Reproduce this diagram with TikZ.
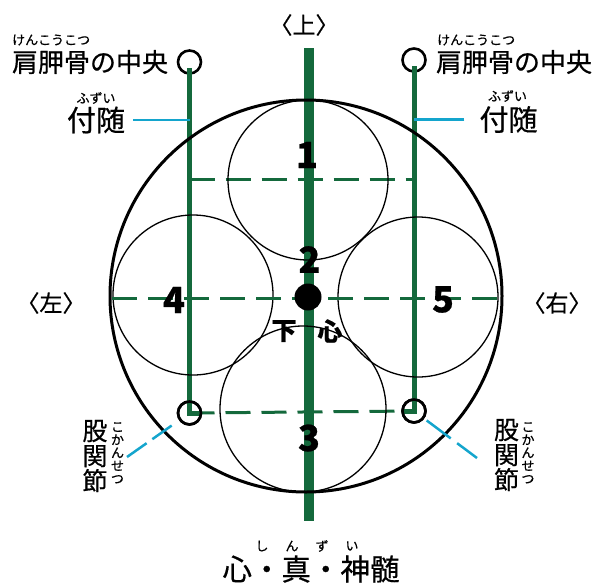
\documentclass[tikz,border=0pt]{standalone}
\usepackage{fontspec}
\setmainfont{Noto Sans CJK JP}[FakeBold=0.6]
\usepackage{tikz}
\usetikzlibrary{calc, positioning}
\definecolor{pine}{RGB}{20,105,60}
\definecolor{aqua}{RGB}{20,165,205}
\tikzset{
    x=1pt, y=-1pt, % one unit is one pixel of the figure, y runs downwards
    pipe/.style = {draw=pine, line width=10pt}, % the centre line
    rail/.style = {draw=pine, line width=5pt}, % the side lines
    gdash/.style = {draw=pine, line width=3pt, dash pattern=on 25pt off 11pt},
    ball/.style = {circle, draw, line width=1.3pt, inner sep=0pt, minimum size=160pt},
    ring/.style = {circle, draw, line width=2.6pt, inner sep=0pt, minimum size=23pt},
    lead/.style = {draw=aqua, line width=2.5pt},
    lbl/.style = {inner sep=0pt, font=\fontsize{26}{26}\selectfont},
    rubi/.style = {inner sep=0pt, font=\fontsize{13}{13}\selectfont, align=center},
    num/.style = {inner sep=0pt, font=\fontsize{36}{36}\selectfont\bfseries}
}
\begin{document}
\begin{tikzpicture}
\useasboundingbox (0,0) rectangle (594,584);
% centre line
\coordinate (top) at (309,48);
\coordinate (bot) at (309,521);
\draw[pipe] (top) -- (bot);
% end points of the side lines
\node[ring] (lt) at (189.5,62) {};
\node[ring] (rt) at (414,60) {};
\node[ring] (lb) at (189.5,413) {};
\node[ring] (rb) at (414,411) {};
\coordinate (m1) at (0,179);
\coordinate (m2) at (0,298);
\draw[gdash] (lt |- m1) -- (rt |- m1);
\draw[gdash] (lb.center) -- (rb.center);
\draw[rail, shorten <=6pt] (lt.center) -- (lb.center) -- ++(10,0);
\draw[rail, shorten <=6pt] (rt.center) -- (rb.center) -- ++(-10,0);
% body and the five balls
\node[circle, draw, line width=3pt, inner sep=0pt, minimum size=392pt] (body) at (306,296) {};
\node[ball] (c1) at (308,180) {};
\node[ball] (c4) at (193,295) {};
\node[ball] (c5) at (418,297) {};
\node[ball, minimum size=166pt] (c3) at (303,409) {};
\draw[gdash] (c4.west |- m2) -- (c5.east |- m2);
\node[circle, fill, inner sep=0pt, minimum size=27pt] (dot) at (308,297) {};
% redraw the rings above the body
\node[ring] at (lb) {};
\node[ring] at (rb) {};
% numbers
\node[num] (n1) at (307,155) {1};
\node[num] (n2) at (309.5,259.5) {2};
\node[num] (n3) at (309,438) {3};
\node[num] (n4) at (174,300) {4};
\node[num] (n5) at (443,299.5) {5};
\node[lbl, font=\fontsize{25}{25}\selectfont\bfseries] (ka) at (284,331) {下};
\node[lbl, font=\fontsize{25}{25}\selectfont\bfseries] (shin) at (330,331) {心};
% directions
\node[lbl, font=\fontsize{23}{23}\selectfont] (ue) at (304,25) {〈上〉};
\node[lbl, font=\fontsize{23}{23}\selectfont] (hidari) at (51,303) {〈左〉};
\node[lbl, font=\fontsize{23}{23}\selectfont] (migi) at (557,303) {〈右〉};
% shoulder blades
\node[lbl] (kenL) at (90,62) {肩胛骨の中央};
\node[rubi, anchor=west] (kenLr) at (12,40) {けんこうこつ};
\node[lbl] (kenR) at (514,62) {肩胛骨の中央};
\node[rubi, anchor=west] (kenRr) at (437,40) {けんこうこつ};
% attached lines
\node[lbl, font=\fontsize{29}{29}\selectfont] (fzL) at (96,120) {付随};
\node[rubi] (fzLr) at (96,98) {ふずい};
\node[lbl, font=\fontsize{29}{29}\selectfont] (fzR) at (508.5,119.5) {付随};
\node[rubi] (fzRr) at (507.5,96) {ふずい};
\draw[lead, shorten <=8pt] (fzL.east) -- (fzL.east -| lt);
\draw[lead, shorten <=15pt] (fzR.west) -- (fzR.west -| rt);
% hip joints
\node[lbl, align=center, font=\fontsize{25}{25}\selectfont] (kokL) at (95,456) {股\\関\\節};
\node[rubi] (kokLr) at (117.5,453) {こ\\か\\ん\\せ\\つ};
\node[lbl, align=center, font=\fontsize{25}{25}\selectfont] (kokR) at (506.5,455) {股\\関\\節};
\node[rubi] (kokRr) at (528,453) {こ\\か\\ん\\せ\\つ};
\coordinate (kkLend) at (127,457);
\coordinate (kkRend) at (477,458);
\draw[lead, dash pattern=on 24pt off 7pt, shorten >=9pt] (kkLend) -- (lb);
\draw[lead, dash pattern=on 30pt off 8pt, shorten <=3pt] (rb) -- (kkRend);
% bottom title
\node[lbl, font=\fontsize{29.5}{29.5}\selectfont] (title) at (311,569) {心・真・神髄};
\node[rubi] (r1) at (262,546) {し};
\node[rubi] (r2) at (292,546) {ん};
\node[rubi] (r3) at (322,546) {ず};
\node[rubi] (r4) at (352,546) {い};
\end{tikzpicture}
\end{document}
